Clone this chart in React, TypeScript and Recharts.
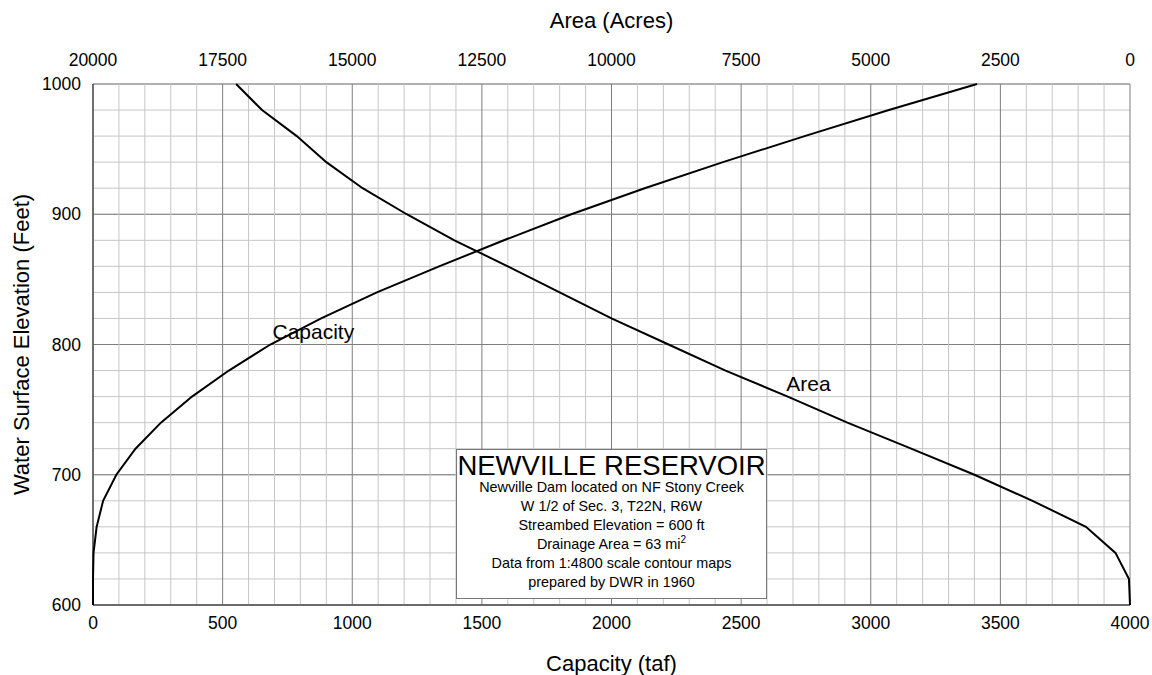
import { ScatterChart, Scatter, XAxis, YAxis, CartesianGrid, ReferenceDot, ReferenceLine } from "recharts";

// elevation steps (ft) with the capacity (taf) and surface area (acres) at each one
const elevations = [600, 620, 640, 660, 680, 700, 720, 740, 760, 780, 800, 820, 840, 860, 880, 900, 920, 940, 960, 980, 1000];
const capacityTaf = [0, 0, 2, 14, 39, 90, 164, 262, 382, 524, 684, 880, 1095, 1335, 1585, 1845, 2128, 2430, 2745, 3070, 3410];
const areaAcres = [0, 20, 280, 850, 1880, 3000, 4220, 5450, 6600, 7800, 8900, 10000, 11000, 12000, 13030, 13950, 14800, 15500, 16070, 16740, 17240];

const capacityTicks = [0, 500, 1000, 1500, 2000, 2500, 3000, 3500, 4000];
const areaTicks = [0, 2500, 5000, 7500, 10000, 12500, 15000, 17500, 20000];
const elevationTicks = [600, 700, 800, 900, 1000];

// fine grid: every 100 taf and every 20 ft
const capacityMinor = Array.from({ length: 41 }, (_, i) => i * 100).filter((v) => v % 500 !== 0);
const elevationMinor = Array.from({ length: 21 }, (_, i) => 600 + i * 20);

const rows = elevations.map((elev, i) => ({ elev, cap: capacityTaf[i], area: areaAcres[i] }));

const FONT = '"Liberation Sans", Arial, Helvetica, sans-serif';
const tick = { fill: "#000", fontSize: 17.5 };
const noDot = () => <g />;

export default function App() {
  return (
    <div style={{ position: "absolute", left: 0, top: 0, width: 1152, height: 675, background: "#fff", fontFamily: FONT }}>
      <ScatterChart width={1152} height={675} margin={{ top: 0, right: 22, bottom: 0, left: 0 }}>
        <YAxis yAxisId="elevMinor" type="number" domain={[600, 1000]} ticks={elevationMinor} interval={0} allowDataOverflow hide />
        <CartesianGrid xAxisId="cap" yAxisId="elevMinor" stroke="#c6c6c6" strokeWidth={1} vertical={false} />
        {capacityMinor.map((v) => (
          <ReferenceLine key={v} x={v} xAxisId="cap" yAxisId="elev" stroke="#c6c6c6" strokeWidth={1} />
        ))}
        <CartesianGrid xAxisId="cap" yAxisId="elev" stroke="#7d7d7d" strokeWidth={1} fill="none" />

        <XAxis
          xAxisId="cap"
          dataKey="cap"
          type="number"
          domain={[0, 4000]}
          ticks={capacityTicks}
          interval={0}
          height={70}
          tickSize={0}
          tickMargin={12}
          tick={tick}
          tickLine={false}
          axisLine={{ stroke: "#555", strokeWidth: 1.5 }}
          label={{ value: "Capacity (taf)", position: "insideBottom", offset: 4, fill: "#000", fontSize: 22 }}
        />
        <XAxis
          xAxisId="area"
          dataKey="area"
          type="number"
          orientation="top"
          reversed
          domain={[0, 20000]}
          ticks={areaTicks}
          interval={0}
          height={84}
          tickSize={0}
          tickMargin={18}
          tick={tick}
          tickLine={false}
          axisLine={false}
          label={{ value: "Area (Acres)", position: "insideTop", offset: 12, fill: "#000", fontSize: 22 }}
        />
        <YAxis
          yAxisId="elev"
          dataKey="elev"
          type="number"
          domain={[600, 1000]}
          ticks={elevationTicks}
          interval={0}
          width={93}
          tickSize={0}
          tickMargin={12}
          tick={tick}
          tickLine={false}
          axisLine={{ stroke: "#555", strokeWidth: 1.5 }}
          label={{
            value: "Water Surface Elevation (Feet)",
            angle: -90,
            position: "insideLeft",
            offset: 21,
            fill: "#000",
            fontSize: 22,
            style: { textAnchor: "middle" },
          }}
        />

        <Scatter
          name="Capacity"
          data={rows}
          xAxisId="cap"
          yAxisId="elev"
          line={{ stroke: "#000", strokeWidth: 2 }}
          lineType="joint"
          shape={noDot}
          isAnimationActive={false}
        />
        <Scatter
          name="Area"
          data={rows}
          xAxisId="area"
          yAxisId="elev"
          line={{ stroke: "#000", strokeWidth: 2 }}
          lineType="joint"
          shape={noDot}
          isAnimationActive={false}
        />

        <ReferenceDot
          xAxisId="cap"
          yAxisId="elev"
          x={850}
          y={810}
          r={1}
          fill="none"
          stroke="none"
          label={{ value: "Capacity", position: "center", fill: "#000", fontSize: 21 }}
        />
        <ReferenceDot
          xAxisId="area"
          yAxisId="elev"
          x={6200}
          y={770}
          r={1}
          fill="none"
          stroke="none"
          label={{ value: "Area", position: "center", fill: "#000", fontSize: 21 }}
        />
      </ScatterChart>

      <div
        style={{
          position: "absolute",
          left: 456,
          top: 449,
          width: 309,
          height: 144,
          border: "1px solid #777",
          background: "#fff",
          textAlign: "center",
          color: "#000",
          paddingTop: 4,
          boxSizing: "content-box",
          whiteSpace: "nowrap",
        }}
      >
        <div style={{ fontSize: 27.5, lineHeight: "24px" }}>NEWVILLE RESERVOIR</div>
        <div style={{ fontSize: 14.4, lineHeight: "19px" }}>
          <div>Newville Dam located on NF Stony Creek</div>
          <div>W 1/2 of Sec. 3, T22N, R6W</div>
          <div>Streambed Elevation = 600 ft</div>
          <div>
            Drainage Area = 63 mi<sup style={{ fontSize: 10, lineHeight: 0 }}>2</sup>
          </div>
          <div>Data from 1:4800 scale contour maps</div>
          <div>prepared by DWR in 1960</div>
        </div>
      </div>
    </div>
  );
}
